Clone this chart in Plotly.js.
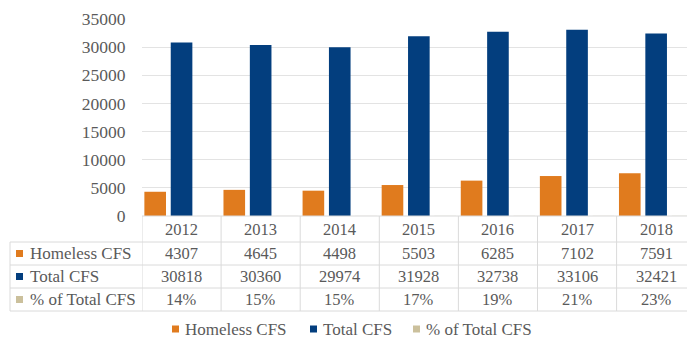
<!DOCTYPE html>
<html>
<head>
<meta charset="utf-8">
<script src="https://cdn.plot.ly/plotly-3.0.1.min.js"></script>
<style>html,body{margin:0;padding:0;background:#fff;}#chart{width:687px;height:343px;}</style>
</head>
<body>
<div id="chart"></div>
<script>
// ---- Data ----
const years = ['2012', '2013', '2014', '2015', '2016', '2017', '2018'];
const homelessCFS = [4307, 4645, 4498, 5503, 6285, 7102, 7591];
const totalCFS = [30818, 30360, 29974, 31928, 32738, 33106, 32421];
const pctOfTotal = [14, 15, 15, 17, 19, 21, 23];
const seriesNames = ['Homeless CFS', 'Total CFS', '% of Total CFS'];
const yTicks = [0, 5000, 10000, 15000, 20000, 25000, 30000, 35000];

// ---- Style ----
const colors = ['#E07B1E', '#033E7E', '#CBC09C'];
const font = 'Liberation Serif';
const textColor = '#5a5a5a';
const lineColor = '#dadada';

// geometry (pixels)
const W = 687, H = 343;
const plotL = 142, plotT = 19, plotB = 216;
const plotW = W - plotL, plotH = plotB - plotT;
const px = x => (x - plotL) / plotW;   // pixel x -> paper
const py = y => (plotB - y) / plotH;   // pixel y -> paper

const seriesValues = [homelessCFS, totalCFS, pctOfTotal];
const traces = seriesNames.map((n, k) => ({
  type: 'bar', name: n, x: years, y: seriesValues[k],
  marker: {color: colors[k]}, hoverinfo: 'x+y+name'
}));

const rowTop = [242, 265, 288];
const rowBot = 311;
const shapes = [];
const annotations = [];

// table horizontal lines
shapes.push({type: 'line', xref: 'paper', yref: 'paper', x0: 0, x1: 1, y0: py(plotB), y1: py(plotB), line: {color: lineColor, width: 1}});
[...rowTop, rowBot].forEach(y => shapes.push({type: 'line', xref: 'paper', yref: 'paper', x0: px(10), x1: 1, y0: py(y), y1: py(y), line: {color: lineColor, width: 1}}));
// left border
shapes.push({type: 'line', xref: 'paper', yref: 'paper', x0: px(10), x1: px(10), y0: py(rowTop[0]), y1: py(rowBot), line: {color: lineColor, width: 1}});
// category column lines
for (let i = 0; i <= years.length; i++) {
  shapes.push({type: 'line', xref: 'x', yref: 'paper', x0: i - 0.5, x1: i - 0.5, y0: py(plotB), y1: py(rowBot), line: {color: lineColor, width: 1}});
}

// year header
years.forEach((yr, i) => annotations.push({xref: 'x', yref: 'paper', x: i, y: py(229), text: yr, showarrow: false, xanchor: 'center', yanchor: 'middle', font: {family: font, size: 16.5, color: textColor}}));

// rows
const rowTexts = [homelessCFS.map(String), totalCFS.map(String), pctOfTotal.map(v => v + '%')];
seriesNames.forEach((n, k) => {
  const yc = (rowTop[k] + (k < 2 ? rowTop[k + 1] : rowBot)) / 2;
  shapes.push({type: 'rect', xref: 'paper', yref: 'paper', x0: px(16), x1: px(23), y0: py(yc - 3.5), y1: py(yc + 3.5), fillcolor: colors[k], line: {width: 0}});
  annotations.push({xref: 'paper', yref: 'paper', x: px(28), y: py(yc), text: n, showarrow: false, xanchor: 'left', yanchor: 'middle', font: {family: font, size: 17, color: textColor}});
  rowTexts[k].forEach((t, i) => annotations.push({xref: 'x', yref: 'paper', x: i, y: py(yc), text: t, showarrow: false, xanchor: 'center', yanchor: 'middle', font: {family: font, size: 16.5, color: textColor}}));
});

// legend
const legX = [172, 310, 413];
const legY = 329;
seriesNames.forEach((n, k) => {
  shapes.push({type: 'rect', xref: 'paper', yref: 'paper', x0: px(legX[k]), x1: px(legX[k] + 7), y0: py(legY - 3.5), y1: py(legY + 3.5), fillcolor: colors[k], line: {width: 0}});
  annotations.push({xref: 'paper', yref: 'paper', x: px(legX[k] + 11), y: py(legY), text: n, showarrow: false, xanchor: 'left', yanchor: 'middle', font: {family: font, size: 17, color: textColor}});
});

const layout = {
  width: W, height: H, autosize: false,
  font: {family: font, color: textColor},
  margin: {l: plotL, r: 0, t: plotT, b: H - plotB, pad: 0},
  paper_bgcolor: '#ffffff', plot_bgcolor: '#ffffff',
  showlegend: false,
  barmode: 'group', bargap: 0, bargroupgap: 0.18,
  xaxis: {type: 'category', range: [-0.5, 6.39], showticklabels: false, showgrid: false, zeroline: false, showline: false, ticks: '', fixedrange: true},
  yaxis: {range: [0, 35000], tickvals: yTicks, ticktext: yTicks.map(String), showgrid: true, gridcolor: '#e3e3e3', gridwidth: 1,
          zeroline: false, showline: false, ticks: 'outside', ticklen: 12, tickcolor: 'rgba(0,0,0,0)',
          tickfont: {family: font, size: 17.5, color: textColor}, fixedrange: true},
  shapes: shapes, annotations: annotations
};

Plotly.newPlot('chart', traces, layout, {displayModeBar: false, staticPlot: true});
</script>
</body>
</html>
